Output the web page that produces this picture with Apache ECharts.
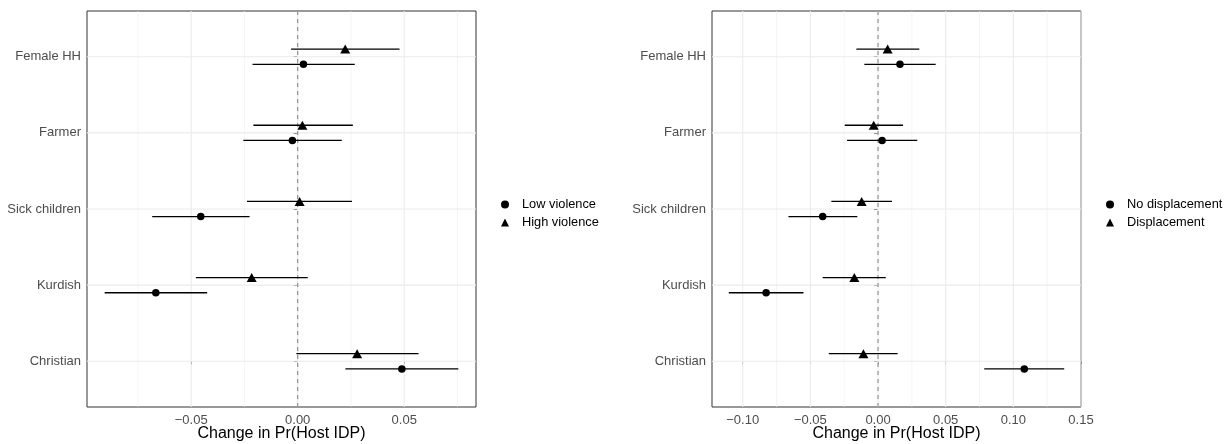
<!DOCTYPE html>
<html>
<head>
<meta charset="utf-8">
<script src="https://cdn.jsdelivr.net/npm/echarts@6/dist/echarts.min.js"></script>
<style>
html,body{margin:0;padding:0;background:#fff;}
#c{width:1224px;height:444px;}
</style>
</head>
<body>
<div id="c"></div>
<script>
// ---- data (categories listed top to bottom) ----
const categories = ['Female HH', 'Farmer', 'Sick children', 'Kurdish', 'Christian'];

// Left panel: violence
const lowViolenceEst  = [0.0027, -0.0025, -0.0455, -0.0666, 0.0489];
const lowViolenceLo   = [-0.0212, -0.0255, -0.0683, -0.0906, 0.0224];
const lowViolenceHi   = [0.0268, 0.0207, -0.0226, -0.0425, 0.0754];
const highViolenceEst = [0.0223, 0.0022, 0.0009, -0.0216, 0.0279];
const highViolenceLo  = [-0.0031, -0.0208, -0.0238, -0.0478, -0.0006];
const highViolenceHi  = [0.0478, 0.0259, 0.0255, 0.0047, 0.0567];

// Right panel: displacement
const noDispEst = [0.0162, 0.0030, -0.0409, -0.0827, 0.1081];
const noDispLo  = [-0.0101, -0.0229, -0.0662, -0.1103, 0.0785];
const noDispHi  = [0.0426, 0.0290, -0.0153, -0.0551, 0.1376];
const dispEst   = [0.0071, -0.0032, -0.0121, -0.0175, -0.0108];
const dispLo    = [-0.0160, -0.0246, -0.0345, -0.0409, -0.0364];
const dispHi    = [0.0305, 0.0185, 0.0103, 0.0057, 0.0145];

// Axis ticks / limits
const leftTicks  = [-0.05, 0, 0.05];
const leftMinor  = [-0.075, -0.025, 0.025, 0.075];
const leftLimits = [-0.0989, 0.0837];
const rightTicks  = [-0.10, -0.05, 0, 0.05, 0.10, 0.15];
const rightMinor  = [-0.075, -0.025, 0.025, 0.075, 0.125];
const rightLimits = [-0.1227, 0.1500];
const xTitle = 'Change in Pr(Host IDP)';
const leftLegend  = ['Low violence', 'High violence'];
const rightLegend = ['No displacement', 'Displacement'];

// ---- helpers ----
const n = categories.length;
const yPos = i => n - 1 - i;            // top category gets highest value
const catTicks = categories.map((c, i) => yPos(i));
const dodge = 0.1;
const fmt = v => (v < -1e-9 ? '\u2212' : '') + Math.abs(v).toFixed(2);
const catLabel = v => { const i = n - 1 - Math.round(v); return categories[i] || ''; };

function errRender(params, api) {
  const p1 = api.coord([api.value(0), api.value(2)]);
  const p2 = api.coord([api.value(1), api.value(2)]);
  return { type: 'line', shape: { x1: p1[0], y1: p1[1], x2: p2[0], y2: p2[1] },
           style: { stroke: '#000', lineWidth: 1.3 } };
}
function vGridRender(color, width, dash) {
  return function (params, api) {
    const cs = params.coordSys;
    const p = api.coord([api.value(0), 0]);
    return { type: 'line', shape: { x1: p[0], y1: cs.y, x2: p[0], y2: cs.y + cs.height },
             style: { stroke: color, lineWidth: width, lineDash: dash || null } };
  };
}
function hGridRender(params, api) {
  const cs = params.coordSys;
  const p = api.coord([0, api.value(0)]);
  return { type: 'line', shape: { x1: cs.x, y1: p[1], x2: cs.x + cs.width, y2: p[1] },
           style: { stroke: '#EBEBEB', lineWidth: 1.1 } };
}

function panelSeries(idx, majors, minors, est1, lo1, hi1, name1, est2, lo2, hi2, name2) {
  const ax = { xAxisIndex: idx, yAxisIndex: idx };
  return [
    Object.assign({ type: 'custom', silent: true, z: 1, renderItem: vGridRender('#EFEFEF', 0.6),
      data: minors.map(v => [v]), encode: { x: 0 } }, ax),
    Object.assign({ type: 'custom', silent: true, z: 1, renderItem: vGridRender('#EBEBEB', 1.1),
      data: majors.map(v => [v]), encode: { x: 0 } }, ax),
    Object.assign({ type: 'custom', silent: true, z: 1, renderItem: hGridRender,
      data: catTicks.map(v => [v]), encode: { y: 0 } }, ax),
    Object.assign({ type: 'custom', silent: true, z: 2, renderItem: vGridRender('#8A8A8A', 1.1, [4, 4]),
      data: [[0]], encode: { x: 0 } }, ax),
    Object.assign({ type: 'custom', silent: true, z: 3, renderItem: errRender,
      data: est1.map((v, i) => [lo1[i], hi1[i], yPos(i) - dodge]), encode: { x: [0, 1], y: 2 } }, ax),
    Object.assign({ type: 'custom', silent: true, z: 3, renderItem: errRender,
      data: est2.map((v, i) => [lo2[i], hi2[i], yPos(i) + dodge]), encode: { x: [0, 1], y: 2 } }, ax),
    Object.assign({ type: 'scatter', name: name1, symbol: 'circle', symbolSize: 7.5, z: 4,
      itemStyle: { color: '#000', opacity: 1 },
      data: est1.map((v, i) => [v, yPos(i) - dodge]) }, ax),
    Object.assign({ type: 'scatter', name: name2, symbol: 'triangle', symbolSize: [10, 9], z: 4,
      itemStyle: { color: '#000', opacity: 1 },
      data: est2.map((v, i) => [v, yPos(i) + dodge]) }, ax)
  ];
}

function xAxisDef(idx, limits, ticks) {
  return {
    type: 'value', gridIndex: idx, min: limits[0], max: limits[1],
    name: xTitle, nameLocation: 'middle', nameGap: 19, nameMoveOverlap: false,
    nameTextStyle: { color: '#000', fontSize: 16, fontFamily: 'Liberation Sans' },
    axisLine: { show: false },
    axisTick: { show: true, length: 3, lineStyle: { color: '#333', width: 1 }, customValues: ticks },
    axisLabel: { color: '#4D4D4D', fontSize: 13, margin: 6.5, fontFamily: 'Liberation Sans',
                 customValues: ticks, formatter: fmt },
    splitLine: { show: false }, minorSplitLine: { show: false }
  };
}
function yAxisDef(idx) {
  return {
    type: 'value', gridIndex: idx, min: -0.6, max: n - 1 + 0.6,
    axisLine: { show: false },
    axisTick: { show: true, length: 4, lineStyle: { color: '#333', width: 1 }, customValues: catTicks },
    axisLabel: { color: '#4D4D4D', fontSize: 13, margin: 6, fontFamily: 'Liberation Sans',
                 customValues: catTicks, formatter: catLabel },
    splitLine: { show: false }
  };
}

const chart = echarts.init(document.getElementById('c'), null, { renderer: 'canvas' });
chart.setOption({
  animation: false,
  backgroundColor: '#fff',
  textStyle: { fontFamily: 'Liberation Sans' },
  grid: [
    { left: 87, right: 748, top: 11, bottom: 37, show: true, borderColor: '#333', borderWidth: 1,
      backgroundColor: '#fff', containLabel: false, outerBoundsMode: 'none' },
    { left: 712, right: 143, top: 11, bottom: 37, show: true, borderColor: '#333', borderWidth: 1,
      backgroundColor: '#fff', containLabel: false, outerBoundsMode: 'none' }
  ],
  xAxis: [xAxisDef(0, leftLimits, leftTicks), xAxisDef(1, rightLimits, rightTicks)],
  yAxis: [yAxisDef(0), yAxisDef(1)],
  legend: [
    { data: leftLegend, orient: 'vertical', left: 501, top: 198, padding: 0, itemWidth: 8, itemHeight: 8, itemGap: 5,
      selectedMode: false, textStyle: { color: '#000', fontSize: 12.8, padding: [0, 0, 0, 8], fontFamily: 'Liberation Sans' } },
    { data: rightLegend, orient: 'vertical', left: 1106, top: 198, padding: 0, itemWidth: 8, itemHeight: 8, itemGap: 5,
      selectedMode: false, textStyle: { color: '#000', fontSize: 12.8, padding: [0, 0, 0, 8], fontFamily: 'Liberation Sans' } }
  ],
  series: [].concat(
    panelSeries(0, leftTicks, leftMinor, lowViolenceEst, lowViolenceLo, lowViolenceHi, leftLegend[0],
                highViolenceEst, highViolenceLo, highViolenceHi, leftLegend[1]),
    panelSeries(1, rightTicks, rightMinor, noDispEst, noDispLo, noDispHi, rightLegend[0],
                dispEst, dispLo, dispHi, rightLegend[1])
  )
});
</script>
</body>
</html>
